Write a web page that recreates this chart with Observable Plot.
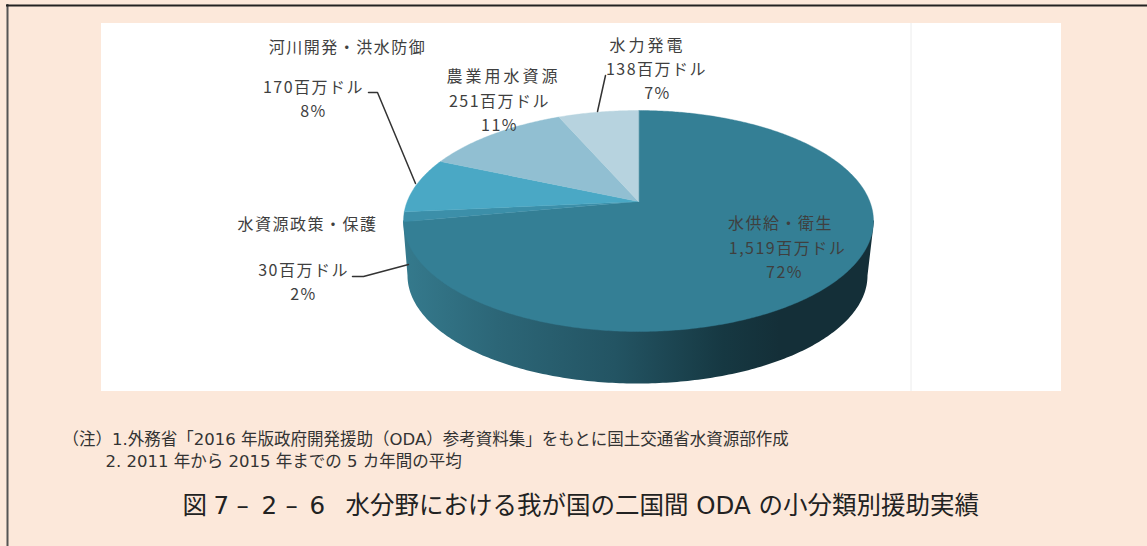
<!DOCTYPE html>
<html lang="ja"><head><meta charset="utf-8">
<script src="https://cdn.jsdelivr.net/npm/d3@7"></script>
<script src="https://cdn.jsdelivr.net/npm/@observablehq/plot@0.6"></script>
<style>
html,body{margin:0;padding:0;background:#fce8da;overflow:hidden}
svg{display:block}
.lab text{letter-spacing:1.5px}
.labw text{letter-spacing:3px}
</style></head><body><div id="c"></div>
<script>
// data (clockwise from 12 o'clock)
const categories = ["水供給・衛生","水資源政策・保護","河川開発・洪水防御","農業用水資源","水力発電"];
const amounts = [1519,30,170,251,138];
const amountLabels = ["1,519百万ドル","30百万ドル","170百万ドル","251百万ドル","138百万ドル"];
const shares = ["72%","2%","8%","11%","7%"];
const colors = ["#347f95","#3c8fa9","#4aa8c5","#91bfd2","#b7d3df"];

const total = d3.sum(amounts);
// perspective disc
const P = {x0:638,y0:201,a:107.06,b:231.3,k:0.1765};
const proj = t => { const u=Math.sin(t), v=Math.cos(t), w=1+P.k*v;
  return {x:P.x0+P.b*u/w, y:P.y0-P.a*v/w}; };
let cum=0; const TAU=Math.PI*2;
const slices = amounts.map((v,i)=>{ const s=cum/total*TAU; cum+=v; const e=cum/total*TAU;
  const n=Math.max(4,Math.ceil((e-s)/0.01));
  const pts=[{x:P.x0,y:P.y0}];
  for(let j=0;j<=n;j++) pts.push(proj(s+(e-s)*j/n));
  return {pts,fill:colors[i]}; });
// side wall: lower face of the disc
const low={x:637,y:275,rx:230,ry:108};
const wall=[{x:873.5,y:220}];
for(let j=0;j<=200;j++){const t=Math.PI*j/200; wall.push({x:low.x+low.rx*Math.cos(t),y:low.y+low.ry*Math.sin(t)});}
wall.push({x:402.5,y:220});

// label layout
const texts=[
 {t:categories[2],x:347,y:47},{t:amountLabels[2],x:313,y:87},{t:shares[2],x:313,y:111},
 {t:amountLabels[3],x:499,y:101},{t:shares[3],x:499,y:125},
 {t:amountLabels[4],x:656,y:69},{t:shares[4],x:657,y:93},
 {t:categories[1],x:307,y:224},{t:amountLabels[1],x:303,y:270},{t:shares[1],x:303,y:294},
 {t:categories[0],x:780,y:223},{t:amountLabels[0],x:787,y:248},{t:shares[0],x:784,y:272}];
const widerTexts=[{t:categories[3],x:503,y:76},{t:categories[4],x:647,y:45}];
const leaders=[
 [{x:368,y:92},{x:377,y:92},{x:415,y:183}],
 [{x:605,y:75},{x:597,y:111}],
 [{x:352,y:276},{x:363,y:276},{x:408,y:264}]];
const titleParts=[{t:"図",x:182},{t:"7",x:213},{t:"–",x:236},{t:"2",x:261},{t:"–",x:285},{t:"6",x:309},{t:"水分野における我が国の二国間 ODA の小分類別援助実績",x:345}];
const CJK='"DejaVu Sans","Noto Sans CJK JP",sans-serif';
const LAB='"Noto Sans CJK JP",sans-serif';

const defs = () => { const ns="http://www.w3.org/2000/svg";
  const g=document.createElementNS(ns,"defs");
  g.innerHTML=`<linearGradient id="side" x1="0" x2="1" y1="0" y2="0">
   <stop offset="0" stop-color="#357a8d"/><stop offset="0.2" stop-color="#2c6677"/>
   <stop offset="0.45" stop-color="#235463"/><stop offset="0.68" stop-color="#163842"/>
   <stop offset="0.8" stop-color="#142f38"/><stop offset="1" stop-color="#142f38"/></linearGradient>`;
  return g; };

const plot = Plot.plot({
  width:1147,height:546,margin:0,
  x:{domain:[0,1147],range:[0,1147],axis:null},
  y:{domain:[0,546],range:[0,546],axis:null},
  style:{background:"#fce8da"},
  marks:[
    defs,
    Plot.rect([{a:101,b:1061,c:23,d:391}],{x1:"a",x2:"b",y1:"c",y2:"d",fill:"white"}),
    Plot.ruleX([910.5],{y1:23,y2:391,stroke:"#ececec",strokeWidth:1}),
    Plot.ruleX([7],{y1:4,y2:546,stroke:"#555",strokeWidth:2}),
    Plot.ruleY([5],{x1:6,x2:1147,stroke:"#222",strokeWidth:2}),
    Plot.line(wall,{x:"x",y:"y",fill:"url(#side)",stroke:"none",curve:"linear-closed"}),
    ...slices.map(s=>Plot.line(s.pts,{x:"x",y:"y",fill:s.fill,stroke:s.fill,strokeWidth:0.4,curve:"linear-closed"})),
    ...leaders.map(l=>Plot.line(l,{x:"x",y:"y",stroke:"#333",strokeWidth:1.5})),
    Plot.text(texts,{x:"x",y:"y",text:"t",fontSize:16,fill:"#3f3f3f",fontFamily:LAB,className:"lab"}),
    Plot.text(widerTexts,{x:"x",y:"y",text:"t",fontSize:16,fill:"#3f3f3f",fontFamily:LAB,className:"labw"}),
    Plot.text(["（注）1.外務省「2016 年版政府開発援助（ODA）参考資料集」をもとに国土交通省水資源部作成"],{x:[62],y:[439],text:d=>d,textAnchor:"start",fontSize:16.5,fill:"#333",fontFamily:CJK}),
    Plot.text(["2. 2011 年から 2015 年までの 5 カ年間の平均"],{x:[105],y:[461],text:d=>d,textAnchor:"start",fontSize:16.5,fill:"#333",fontFamily:CJK}),
    Plot.text(titleParts,{x:"x",y:()=>506,text:"t",textAnchor:"start",fontSize:24.5,fill:"#222",fontFamily:CJK})
  ]
});
document.getElementById("c").append(plot);
</script></body></html>
